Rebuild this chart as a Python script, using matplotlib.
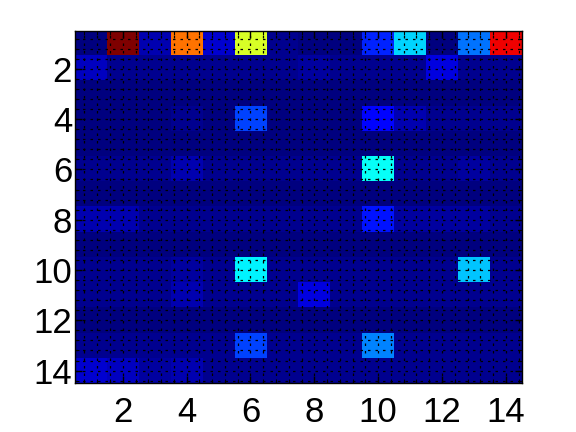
import numpy as np
import matplotlib.pyplot as plt
from matplotlib.colors import LinearSegmentedColormap
from matplotlib.ticker import MultipleLocator

# values (normalised 0..1, jet colour scale)
row01 = [0.00, 1.00, 0.06, 0.75, 0.08, 0.59, 0.02, 0.015, 0.015, 0.16, 0.33, 0.015, 0.235, 0.89]
row02 = [0.07, 0.025, 0.025, 0.025, 0.025, 0.02, 0.025, 0.035, 0.025, 0.025, 0.02, 0.10, 0.025, 0.03]
row03 = [0.015, 0.015, 0.015, 0.015, 0.015, 0.015, 0.015, 0.015, 0.015, 0.015, 0.015, 0.015, 0.015, 0.015]
row04 = [0.015, 0.015, 0.015, 0.02, 0.015, 0.19, 0.015, 0.015, 0.015, 0.14, 0.05, 0.02, 0.02, 0.02]
row05 = [0.015, 0.015, 0.015, 0.015, 0.015, 0.015, 0.015, 0.015, 0.015, 0.015, 0.015, 0.015, 0.015, 0.015]
row06 = [0.02, 0.02, 0.02, 0.06, 0.02, 0.02, 0.02, 0.02, 0.02, 0.38, 0.03, 0.03, 0.035, 0.02]
row07 = [0.015, 0.015, 0.015, 0.015, 0.015, 0.015, 0.015, 0.015, 0.015, 0.015, 0.015, 0.015, 0.015, 0.015]
row08 = [0.055, 0.055, 0.02, 0.02, 0.02, 0.02, 0.02, 0.02, 0.02, 0.15, 0.035, 0.04, 0.035, 0.02]
row09 = [0.015, 0.015, 0.015, 0.015, 0.015, 0.015, 0.015, 0.015, 0.015, 0.015, 0.015, 0.015, 0.015, 0.015]
row10 = [0.02, 0.02, 0.02, 0.045, 0.02, 0.36, 0.02, 0.02, 0.02, 0.02, 0.02, 0.02, 0.32, 0.02]
row11 = [0.02, 0.02, 0.02, 0.06, 0.02, 0.03, 0.02, 0.10, 0.02, 0.02, 0.02, 0.02, 0.02, 0.02]
row12 = [0.015, 0.015, 0.015, 0.015, 0.015, 0.015, 0.015, 0.015, 0.015, 0.015, 0.015, 0.015, 0.015, 0.015]
row13 = [0.02, 0.02, 0.02, 0.02, 0.02, 0.20, 0.02, 0.02, 0.02, 0.25, 0.02, 0.02, 0.02, 0.02]
row14 = [0.085, 0.065, 0.045, 0.055, 0.03, 0.025, 0.025, 0.025, 0.025, 0.025, 0.025, 0.025, 0.025, 0.025]

rows = [row01, row02, row03, row04, row05, row06, row07,
        row08, row09, row10, row11, row12, row13, row14]
tick_vals = [2, 4, 6, 8, 10, 12, 14]

plt.rcParams['font.family'] = ['Liberation Sans', 'DejaVu Sans']

# MATLAB style jet(64)
matlab_jet = LinearSegmentedColormap('matlab_jet', {
    'red':   [(0, 0, 0), (3/8, 0, 0), (5/8, 1, 1), (7/8, 1, 1), (1, 0.5, 0.5)],
    'green': [(0, 0, 0), (1/8, 0, 0), (3/8, 1, 1), (5/8, 1, 1), (7/8, 0, 0), (1, 0, 0)],
    'blue':  [(0, 0.5, 0.5), (1/8, 1, 1), (3/8, 1, 1), (5/8, 0, 0), (1, 0, 0)],
}, N=64)

data = np.array(rows)
n = data.shape[0]

fig = plt.figure(figsize=(5.76, 4.32), dpi=100)
ax = fig.add_axes([0.13, 0.113, 0.776, 0.815])
ax.imshow(data, cmap=matlab_jet, aspect='auto',
          interpolation='nearest', origin='upper',
          extent=(0.5, n + 0.5, n + 0.5, 0.5))

ax.set_xticks(tick_vals)
ax.set_yticks(tick_vals)
ax.xaxis.set_minor_locator(MultipleLocator(0.4))
ax.yaxis.set_minor_locator(MultipleLocator(0.4))
ax.tick_params(which='both', direction='in', top=True, right=True,
               colors='black', labelsize=25)
ax.tick_params(which='major', length=5, width=1)
ax.tick_params(which='minor', length=3, width=0.8)
ax.tick_params(axis='x', which='major', pad=9)
ax.tick_params(axis='y', which='major', pad=2)
ax.grid(True, which='both', color='black', linestyle=(0, (2, 4)), linewidth=0.9)

for s in ax.spines.values():
    s.set_linewidth(1)

plt.savefig('out.png', dpi=100)
